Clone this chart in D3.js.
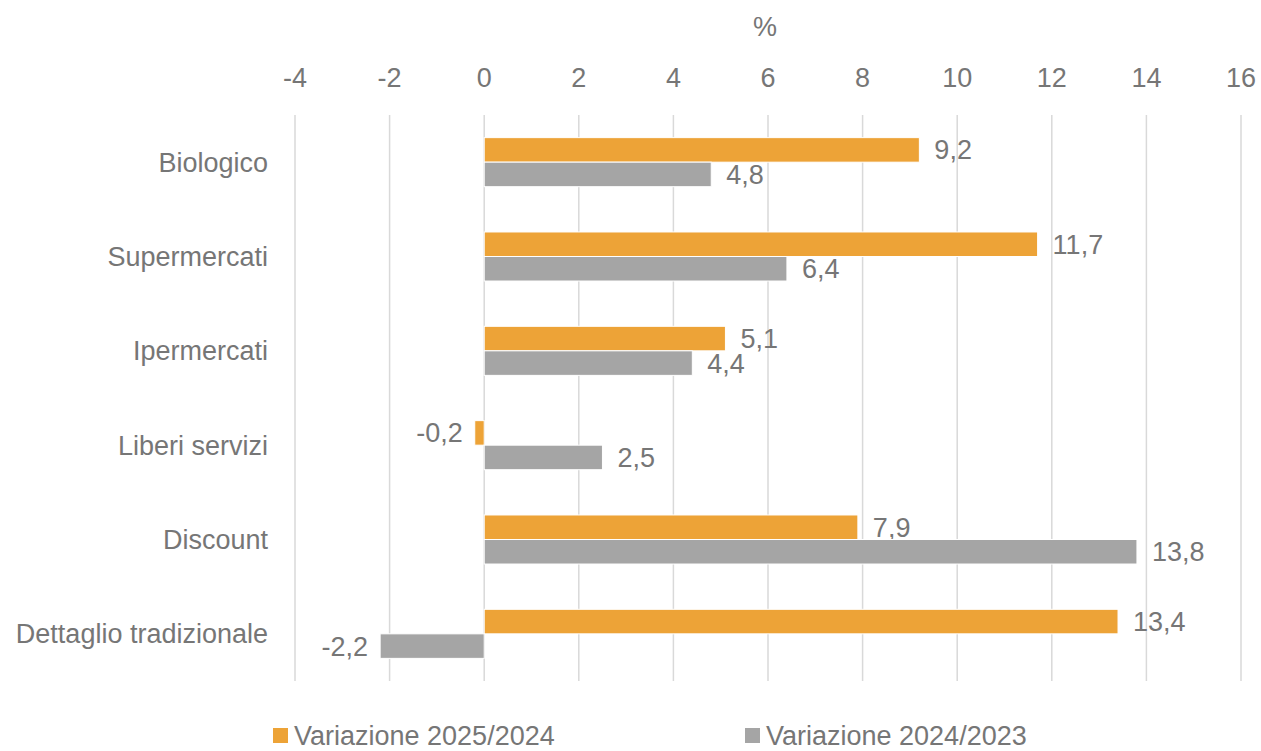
<!DOCTYPE html>
<html>
<head>
<meta charset="utf-8">
<script src="https://cdn.jsdelivr.net/npm/d3@7"></script>
<style>
  body { margin: 0; background: #fff; }
  svg text { font-family: "Liberation Sans", Arial, sans-serif; fill: #767676; }
</style>
</head>
<body>
<svg id="chart" width="1261" height="751"></svg>
<script>
// data
const categories = ["Biologico", "Supermercati", "Ipermercati", "Liberi servizi", "Discount", "Dettaglio tradizionale"];
const seriesNames = ["Variazione 2025/2024", "Variazione 2024/2023"];
const var2025 = [9.2, 11.7, 5.1, -0.2, 7.9, 13.4];
const var2024 = [4.8, 6.4, 4.4, 2.5, 13.8, -2.2];
const xTicks = [-4, -2, 0, 2, 4, 6, 8, 10, 12, 14, 16];
const colors = ["#EDA337", "#A5A5A5"];

const fontSize = 27;
const svg = d3.select('#chart');
const margin = { top: 115, bottom: 70, left: 295, right: 20 };
const width = 1241 - margin.left;
const height = 681 - margin.top;

const chart = svg.append('g')
    .attr('transform', `translate(${margin.left}, ${margin.top})`);

const xScale = d3.scaleLinear().domain([-4, 16]).range([0, width]);
const yScale = d3.scaleBand().domain(categories).range([0, height]);
const barH = yScale.bandwidth() * 0.26;

// gridlines
chart.selectAll('.grid')
    .data(xTicks)
    .join('line')
        .attr('x1', d => xScale(d)).attr('x2', d => xScale(d))
        .attr('y1', 0).attr('y2', height)
        .attr('stroke', '#d9d9d9').attr('stroke-width', 1.5);

// top axis labels
chart.selectAll('.tick-label')
    .data(xTicks)
    .join('text')
        .attr('x', d => xScale(d))
        .attr('y', -37)
        .attr('dy', '0.35em')
        .attr('text-anchor', 'middle')
        .attr('font-size', fontSize)
        .text(d => d);

svg.append('text')
    .attr('x', margin.left + width / 2 - 3)
    .attr('y', 27)
    .attr('dy', '0.35em')
    .attr('text-anchor', 'middle')
    .attr('font-size', fontSize)
    .text('%');

// category labels
chart.selectAll('.cat-label')
    .data(categories)
    .join('text')
        .attr('x', -27)
        .attr('y', d => yScale(d) + yScale.bandwidth() / 2)
        .attr('dy', '0.35em')
        .attr('text-anchor', 'end')
        .attr('font-size', fontSize)
        .text(d => d);

const fmt = v => String(v).replace('.', ',');

const series = [var2025, var2024];
series.forEach((vals, si) => {
    const rows = categories.map((c, i) => ({ cat: c, v: vals[i] }));
    const yOf = d => yScale(d.cat) + yScale.bandwidth() / 2 - barH + si * barH;

    chart.selectAll(`.bar-${si}`)
        .data(rows)
        .join('rect')
            .attr('x', d => xScale(Math.min(0, d.v)))
            .attr('y', yOf)
            .attr('width', d => Math.abs(xScale(d.v) - xScale(0)))
            .attr('height', barH)
            .attr('fill', colors[si])
            .attr('stroke', '#fff').attr('stroke-width', 1);

    chart.selectAll(`.lbl-${si}`)
        .data(rows)
        .join('text')
            .attr('x', d => d.v >= 0 ? xScale(d.v) + 15 : xScale(d.v) - 12)
            .attr('y', d => yOf(d) + barH / 2)
            .attr('dy', '0.35em')
            .attr('text-anchor', d => d.v >= 0 ? 'start' : 'end')
            .attr('font-size', fontSize)
            .text(d => fmt(d.v));
});

// legend
const legendX = [273, 745];
const legend = svg.selectAll('.legend')
    .data(seriesNames)
    .join('g')
        .attr('transform', (d, i) => `translate(${legendX[i]}, 728)`);
legend.append('rect')
    .attr('width', 15).attr('height', 15)
    .attr('fill', (d, i) => colors[i]);
legend.append('text')
    .attr('x', 21).attr('y', 8)
    .attr('dy', '0.35em')
    .attr('font-size', fontSize)
    .text(d => d);
</script>
</body>
</html>
